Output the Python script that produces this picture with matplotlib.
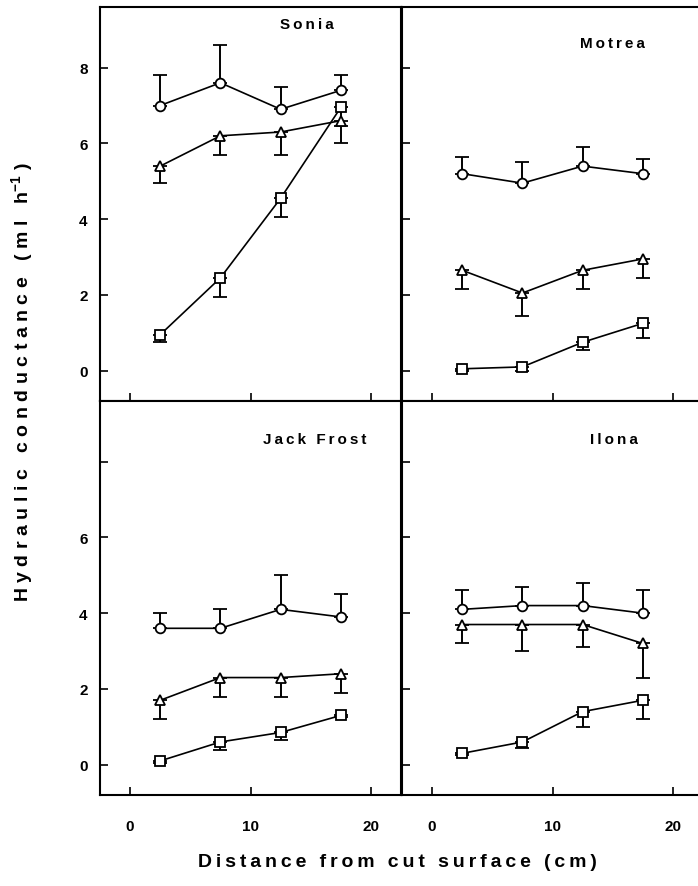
import matplotlib
matplotlib.use('Agg')
import matplotlib.pyplot as plt

plt.rcParams['font.family'] = ['Liberation Sans', 'DejaVu Sans']
plt.rcParams['font.weight'] = 'bold'
plt.rcParams['mathtext.fontset'] = 'custom'
plt.rcParams['mathtext.rm'] = 'Liberation Sans:bold'
plt.rcParams['mathtext.bf'] = 'Liberation Sans:bold'
plt.rcParams['mathtext.default'] = 'bf'

# distance from cut surface (cm)
dist = [2.5, 7.5, 12.5, 17.5]

cultivars = ['Sonia', 'Motrea', 'Jack Frost', 'Ilona']

# circles: mean + upward error
circ = {
  'Sonia':      [7.0, 7.6, 6.9, 7.4],
  'Motrea':     [5.2, 4.95, 5.4, 5.2],
  'Jack Frost': [3.6, 3.6, 4.1, 3.9],
  'Ilona':      [4.1, 4.2, 4.2, 4.0],
}
circ_err = {
  'Sonia':      [0.8, 1.0, 0.6, 0.4],
  'Motrea':     [0.45, 0.55, 0.5, 0.4],
  'Jack Frost': [0.4, 0.5, 0.9, 0.6],
  'Ilona':      [0.5, 0.5, 0.6, 0.6],
}
# triangles: mean + downward error
tri = {
  'Sonia':      [5.4, 6.2, 6.3, 6.6],
  'Motrea':     [2.65, 2.05, 2.65, 2.95],
  'Jack Frost': [1.7, 2.3, 2.3, 2.4],
  'Ilona':      [3.7, 3.7, 3.7, 3.2],
}
tri_err = {
  'Sonia':      [0.45, 0.5, 0.6, 0.6],
  'Motrea':     [0.5, 0.6, 0.5, 0.5],
  'Jack Frost': [0.5, 0.5, 0.5, 0.5],
  'Ilona':      [0.5, 0.7, 0.6, 0.9],
}
# squares: mean + downward error
sq = {
  'Sonia':      [0.95, 2.45, 4.55, 6.95],
  'Motrea':     [0.05, 0.1, 0.75, 1.25],
  'Jack Frost': [0.1, 0.6, 0.85, 1.3],
  'Ilona':      [0.3, 0.6, 1.4, 1.7],
}
sq_err = {
  'Sonia':      [0.2, 0.5, 0.5, 0.5],
  'Motrea':     [0.05, 0.1, 0.2, 0.4],
  'Jack Frost': [0.05, 0.2, 0.2, 0.05],
  'Ilona':      [0.05, 0.15, 0.4, 0.5],
}

xticks = [0, 10, 20]
yticks = [0, 2, 4, 6, 8]

def spread(s, gap='\u2009'):
  return gap.join(s)

fig = plt.figure(figsize=(6.98, 8.87), dpi=100)

W = 301/698.
H = 394/887.
pos = {
  'Sonia':      [100/698., 1-402/887., W, H],
  'Motrea':     [402/698., 1-402/887., W, H],
  'Jack Frost': [100/698., 1-796/887., W, H],
  'Ilona':      [402/698., 1-796/887., W, H],
}
titlepos = {
  'Sonia':      (14.7, 9.15),
  'Motrea':     (15.0, 8.65),
  'Jack Frost': (15.3, 8.6),
  'Ilona':      (15.1, 8.6),
}

lw = 1.2
for name in cultivars:
  ax = fig.add_axes(pos[name])
  ax.set_xlim(-2.5, 22.5)
  ax.set_ylim(-0.8, 9.6)
  for s in ax.spines.values():
    s.set_linewidth(1.5)

  z = [0]*4
  kw = dict(color='black', mfc='white', mec='black', ms=7, mew=1.3, lw=lw,
            elinewidth=1.4, capsize=5, capthick=1.4)
  ax.errorbar(dist, circ[name], yerr=[z, circ_err[name]], fmt='-o', **kw)
  ax.errorbar(dist, tri[name], yerr=[tri_err[name], z], fmt='-^', **kw)
  ax.errorbar(dist, sq[name], yerr=[sq_err[name], z], fmt='-s', **kw)

  ax.set_xticks(xticks)
  ax.set_yticks(yticks)
  ax.tick_params(direction='in', length=6, width=1.2, labelsize=11, pad=9)
  ax.tick_params(axis='x', pad=17)

  left = name in ('Sonia', 'Jack Frost')
  bottom = name in ('Jack Frost', 'Ilona')
  if left:
    if name == 'Sonia':
      ax.set_yticklabels([str(v) for v in yticks])
    else:
      ax.set_yticklabels(['0', '2', '4', '6', ''])
  else:
    ax.set_yticklabels([])
  if bottom:
    ax.set_xticklabels([str(v) for v in xticks])
  else:
    ax.set_xticklabels([])

  tx, ty = titlepos[name]
  ax.text(tx, ty, spread(name), ha='center', va='center', fontsize=11)

fig.text(0.570, 0.028, spread('Distance from cut surface (cm)'), ha='center', va='center', fontsize=14)
g = '\u2009\u200a'
fig.text(0.032, 0.569, spread('Hydraulic conductance (ml h', g) + '$^{-1}$' + g + ')',
         ha='center', va='center', rotation=90, fontsize=14)

fig.savefig('out.png', dpi=100)
